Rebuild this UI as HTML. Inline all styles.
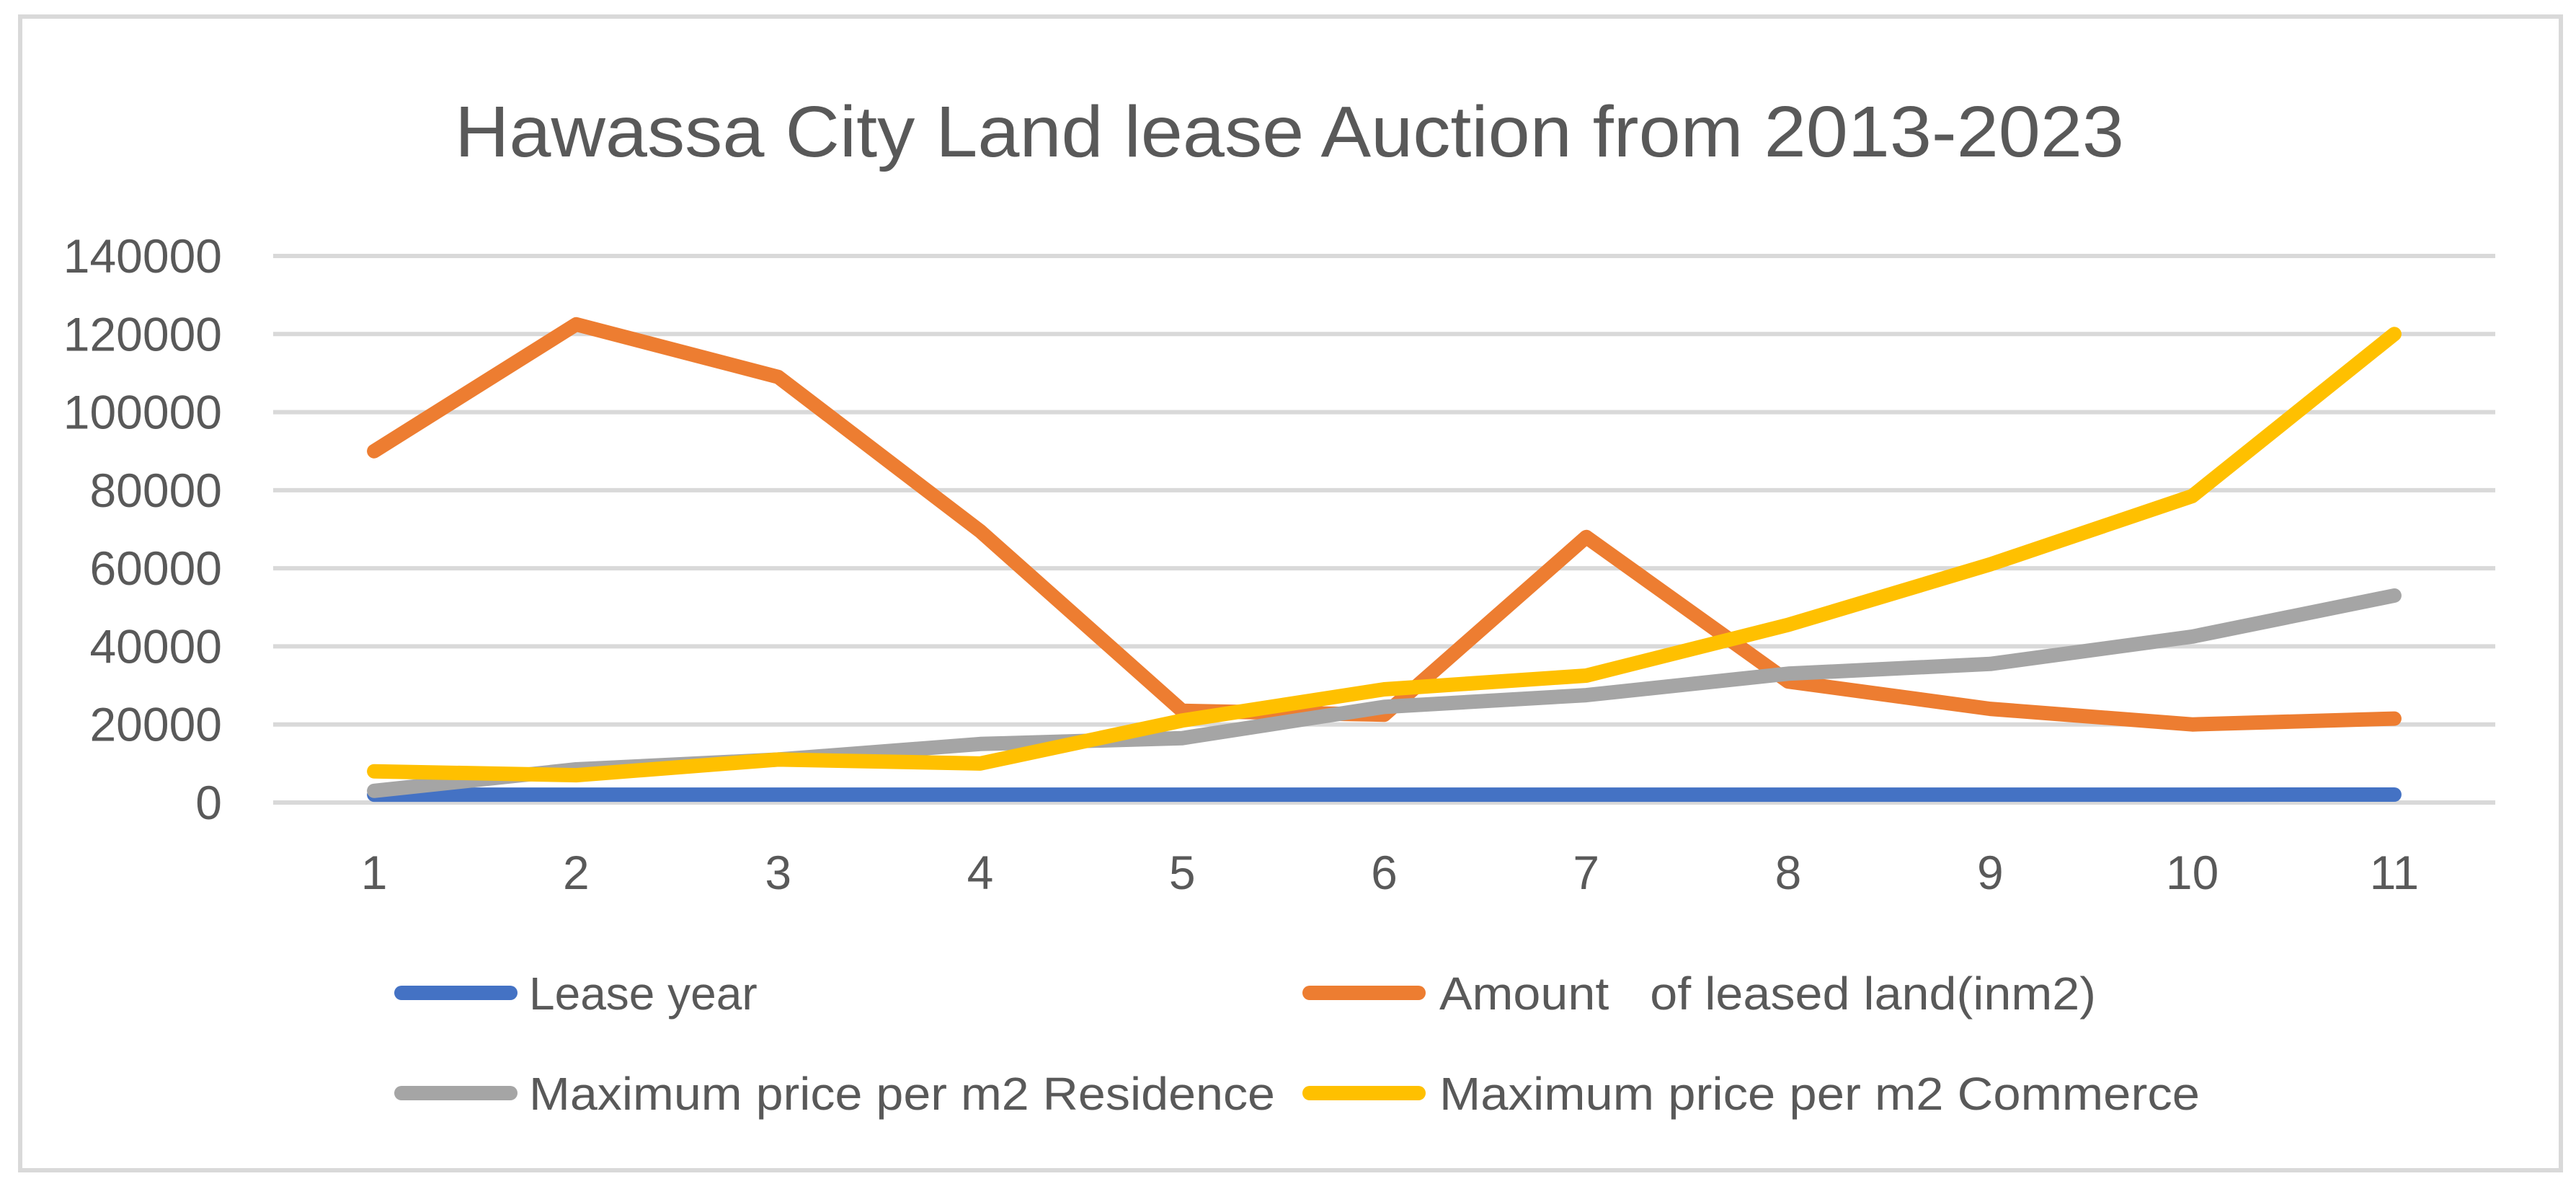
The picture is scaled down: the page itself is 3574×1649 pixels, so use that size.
<!DOCTYPE html>
<html><head><meta charset="utf-8"><style>
html,body{margin:0;padding:0;background:#fff;}
svg{display:block;font-family:"Liberation Sans",sans-serif;}
</style></head><body>
<svg id="chart" width="3574" height="1649" viewBox="0 0 3574 1649" xmlns="http://www.w3.org/2000/svg">
<rect x="28" y="23" width="3525" height="1600" fill="#fff" stroke="#d9d9d9" stroke-width="6"/>
<text x="1789" y="217" text-anchor="middle" font-size="100" fill="#595959" textLength="2316" lengthAdjust="spacingAndGlyphs">Hawassa City Land lease Auction from 2013-2023</text>
<g id="grid"></g><g id="ylabels"></g><g id="xlabels"></g><g id="series"></g>
<g id="legend">
<line x1="557" y1="1377" x2="708" y2="1377" stroke="#4472c4" stroke-width="20" stroke-linecap="round"/>
<text x="734" y="1400" font-size="64" fill="#595959">Lease year</text>
<line x1="1817" y1="1377" x2="1968" y2="1377" stroke="#ed7d31" stroke-width="20" stroke-linecap="round"/>
<text x="1997" y="1400" font-size="64" fill="#595959" xml:space="preserve" textLength="911" lengthAdjust="spacingAndGlyphs">Amount   of leased land(inm2)</text>
<line x1="557" y1="1516" x2="708" y2="1516" stroke="#a5a5a5" stroke-width="20" stroke-linecap="round"/>
<text x="734" y="1539" font-size="64" fill="#595959" textLength="1035" lengthAdjust="spacingAndGlyphs">Maximum price per m2 Residence</text>
<line x1="1817" y1="1516" x2="1968" y2="1516" stroke="#ffc000" stroke-width="20" stroke-linecap="round"/>
<text x="1997" y="1539" font-size="64" fill="#595959" textLength="1055" lengthAdjust="spacingAndGlyphs">Maximum price per m2 Commerce</text>
</g>
</svg>
<script>
const categories = ["1","2","3","4","5","6","7","8","9","10","11"];
const yTicks = [0,20000,40000,60000,80000,100000,120000,140000];
const leaseYear = [2013,2014,2015,2016,2017,2018,2019,2020,2021,2022,2023];
const leasedLand = [90000,122500,109000,69500,23500,22500,68000,31000,24000,20000,21500];
const residencePrice = [3000,8500,11000,15000,16500,24500,27500,33000,35500,42500,53000];
const commercePrice = [8000,7000,11000,10000,21000,29000,32500,45500,61000,78500,120000];

const NS="http://www.w3.org/2000/svg";
const L=379,R=3462,Y0=1113,Y1=355,YMAX=140000;
const step=(R-L)/categories.length;
const xs=i=>L+(i+0.5)*step;
const ys=v=>Y0-(v/YMAX)*(Y0-Y1);
function mk(tag,attrs,parent){const e=document.createElementNS(NS,tag);for(const k in attrs)e.setAttribute(k,attrs[k]);parent.appendChild(e);return e;}
const grid=document.getElementById('grid'),yl=document.getElementById('ylabels'),xl=document.getElementById('xlabels'),ser=document.getElementById('series');
yTicks.forEach(t=>{
  const g=mk('line',{x1:L,x2:R,y1:ys(t),y2:ys(t),stroke:'#d9d9d9','stroke-width':6},grid);
  
  
  const tx=mk('text',{x:308,y:ys(t)+23,'text-anchor':'end','font-size':66,fill:'#595959'},yl);
  tx.textContent=String(t);
  
  
});
categories.forEach((c,i)=>{
  const tx=mk('text',{x:xs(i),y:1233,'text-anchor':'middle','font-size':66,fill:'#595959'},xl);
  tx.textContent=c;
  
  
});
function line(data,color,name){
  const pts=data.map((v,i)=>xs(i).toFixed(1)+','+ys(v).toFixed(1)).join(' ');
  const p=mk('polyline',{points:pts,fill:'none',stroke:color,'stroke-width':20,'stroke-linecap':'round','stroke-linejoin':'round'},ser);
  
  
}
line(leaseYear,'#4472c4','series-lease-year');
line(leasedLand,'#ed7d31','series-leased-land');
line(residencePrice,'#a5a5a5','series-residence-price');
line(commercePrice,'#ffc000','series-commerce-price');
</script>
</body></html>
